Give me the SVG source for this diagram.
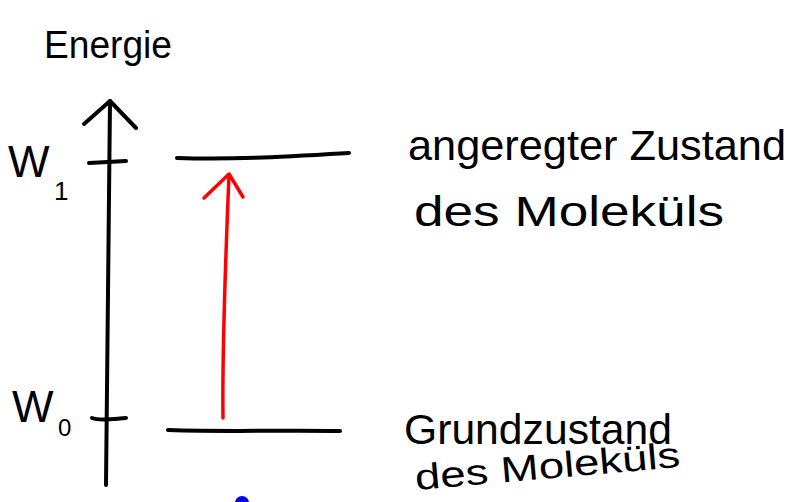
<svg xmlns="http://www.w3.org/2000/svg" width="791" height="502" viewBox="0 0 791 502">
<style>
.ink{fill:none;stroke:#000;stroke-width:4;stroke-linecap:round;stroke-linejoin:round}
.red{fill:none;stroke:#f00;stroke-width:3.5;stroke-linecap:round;stroke-linejoin:round}
.t{font-family:"Liberation Sans",Arial,sans-serif;fill:#000}
</style>
<rect width="791" height="502" fill="#fff"/>
<g id="axis">
<path class="ink" d="M110,101 C108,220 107,350 106,485"/>
<path class="ink" d="M84,124 L110,101 L136,128"/>
<text class="t" x="44" y="58" font-size="38" textLength="128" lengthAdjust="spacingAndGlyphs">Energie</text>
</g>
<g id="w1">
<path class="ink" d="M89,163 L126,161"/>
<text class="t" x="8" y="177" font-size="44">W</text>
<text class="t" x="54" y="200" font-size="26">1</text>
</g>
<g id="w0">
<path class="ink" d="M92,418 C100,421 112,419 126,418"/>
<text class="t" x="12" y="422" font-size="44">W</text>
<text class="t" x="58" y="436" font-size="24">0</text>
</g>
<g id="excited">
<path class="ink" d="M177,158 C230,160 280,157 349,153"/>
<text class="t" x="408" y="160" font-size="42" textLength="378" lengthAdjust="spacingAndGlyphs">angeregter Zustand</text>
<text class="t" x="414" y="226" font-size="42" textLength="310" lengthAdjust="spacingAndGlyphs">des Moleküls</text>
</g>
<g id="ground">
<path class="ink" d="M168,430 C230,432 280,430 340,431"/>
<text class="t" x="404" y="444" font-size="42" textLength="268" lengthAdjust="spacingAndGlyphs">Grundzustand</text>
<text class="t" x="416" y="490" font-size="36" textLength="266" lengthAdjust="spacingAndGlyphs" transform="rotate(-5 416 490)">des Moleküls</text>
</g>
<g id="connectors">
<path class="red" d="M223,418 C222,340 226,250 229,175"/>
<path class="red" d="M204,198 L229,174 L243,197"/>
</g>
<circle cx="242" cy="503" r="7" fill="#00f"/>
</svg>
